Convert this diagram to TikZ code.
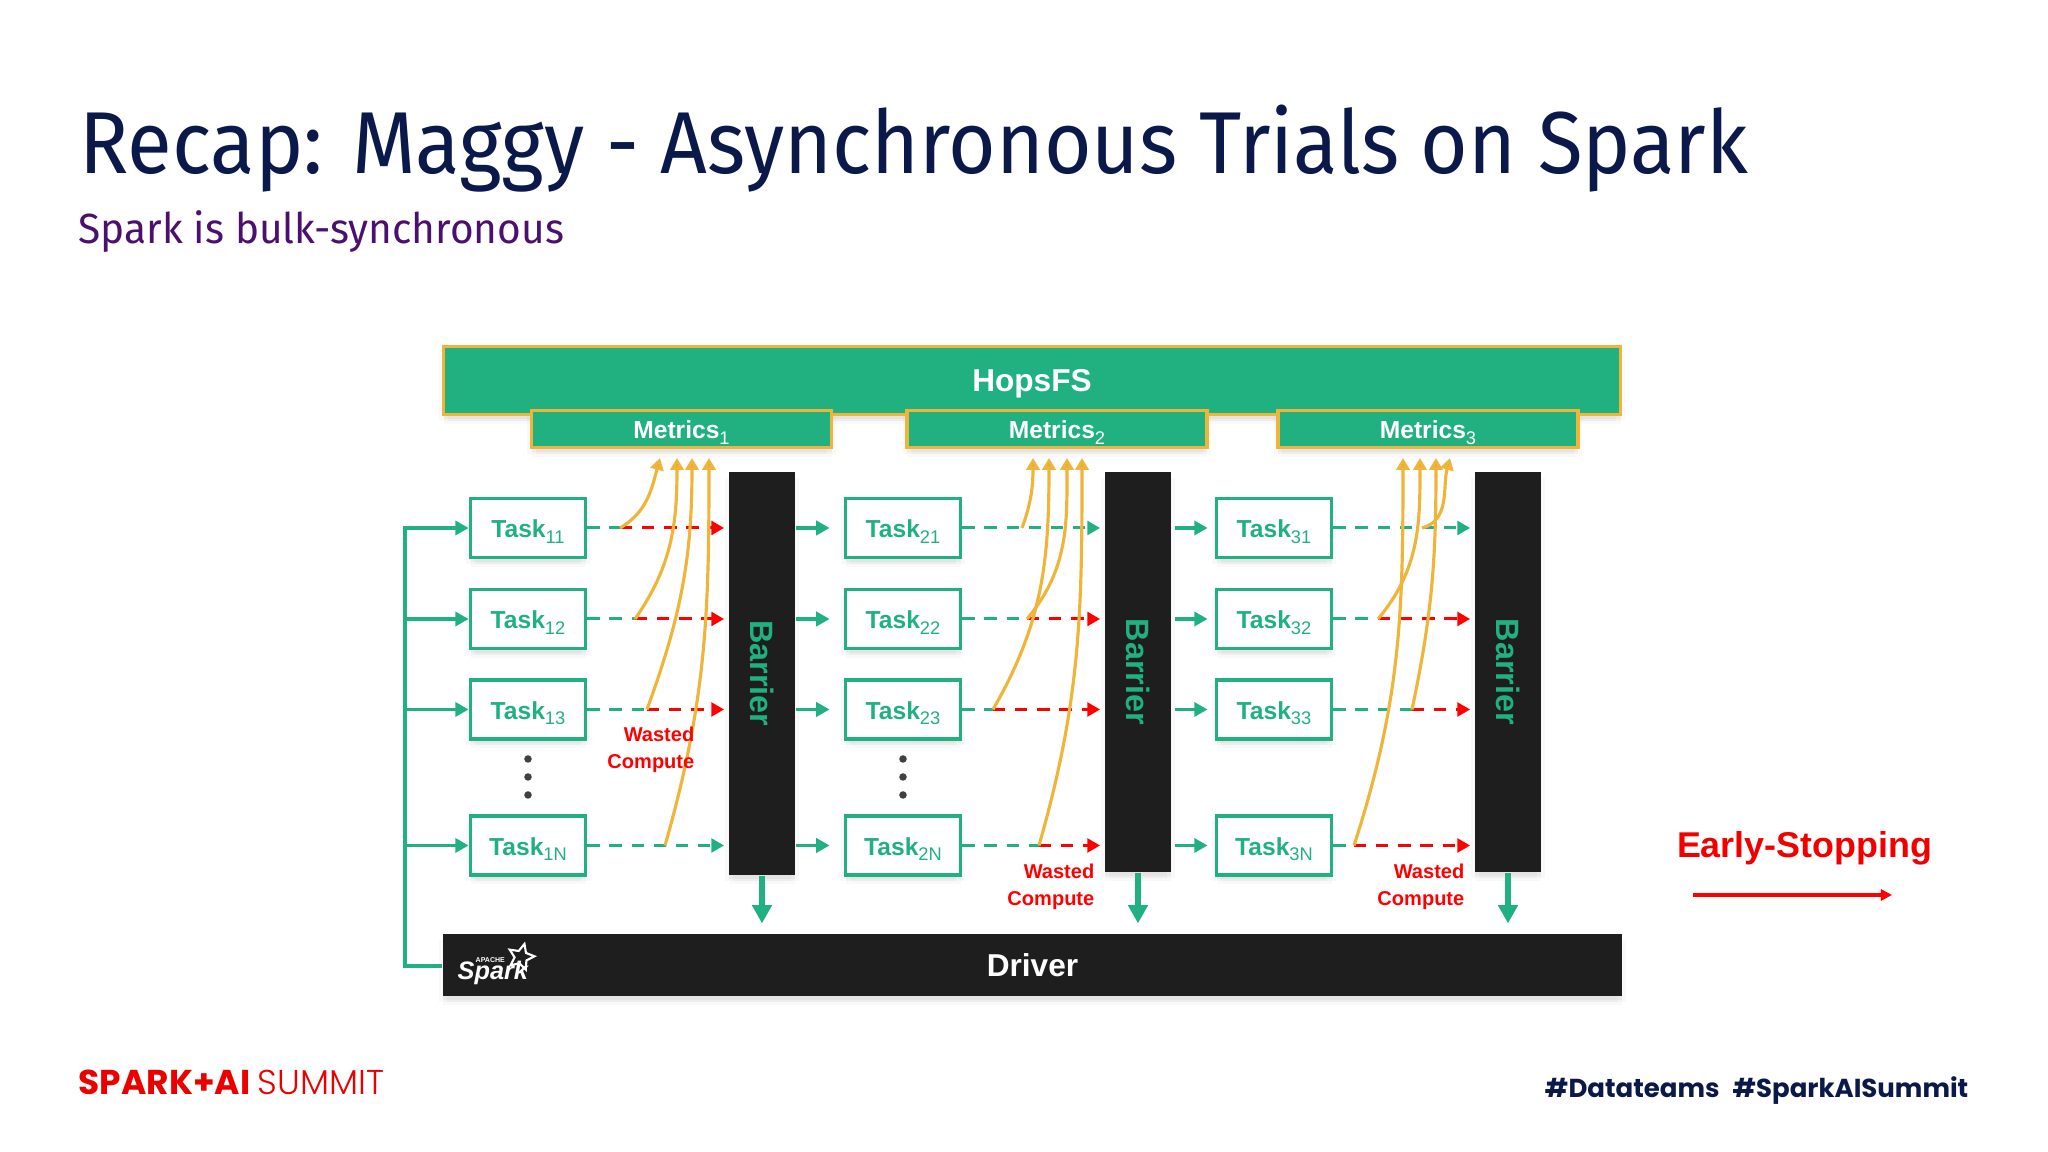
\documentclass[tikz,border=0pt]{standalone}
\usepackage{fontspec}
\setmainfont{Liberation Sans}
\newfontfamily\titlefont[FakeStretch=.93]{Fira Sans}
\newfontfamily\subtitlefont[FakeStretch=.963]{Fira Sans}
\newfontfamily\footfont{Poppins}
\newfontfamily\footlight{Poppins Light}
\usetikzlibrary{arrows.meta,shadows,shapes.geometric}
\definecolor{hopsgreen}{RGB}{33,177,128}
\definecolor{metricorange}{RGB}{239,181,59}
\definecolor{tiporange}{RGB}{232,174,52}
\definecolor{barblack}{RGB}{30,30,30}
\definecolor{titlenavy}{RGB}{10,24,74}
\definecolor{subpurple}{RGB}{75,15,110}
\newcommand{\subidx}[1]{\raisebox{-0.22em}{\mdseries\fontsize{5.2}{5}\selectfont #1}}
\tikzset{
    softshadow/.style={
        drop shadow={shadow xshift=1.2pt,shadow yshift=-1.8pt,opacity=.05},
        drop shadow={shadow xshift=-1.2pt,shadow yshift=-1.8pt,opacity=.05},
        drop shadow={shadow xshift=0pt,shadow yshift=-2.6pt,opacity=.05},
        drop shadow={shadow xshift=0pt,shadow yshift=-1.2pt,opacity=.08}},
    taskbox/.style={draw=hopsgreen,line width=1.05pt,fill=white,text=hopsgreen,minimum width=1.15cm,minimum height=.59cm,inner sep=0pt,text height=5.6pt,text depth=0pt,font=\fontsize{7}{8}\selectfont\bfseries,softshadow},
    metricsbox/.style={draw=metricorange,line width=.9pt,fill=hopsgreen,text=white,minimum width=3cm,minimum height=.37cm,inner sep=0pt,text height=5.6pt,text depth=0pt,font=\fontsize{7}{8}\selectfont\bfseries,softshadow},
    barrierbox/.style={fill=barblack,text=hopsgreen,minimum width=.66cm,minimum height=4cm,inner sep=0pt,font=\fontsize{9.2}{10}\selectfont\bfseries,softshadow},
    wastedlabel/.style={text=red,align=right,anchor=east,inner sep=0pt,font=\fontsize{5.7}{7.7}\selectfont\bfseries},
    greenline/.style={draw=hopsgreen,line width=1pt,-{Triangle[length=3.8pt,width=4pt]}},
    greendash/.style={draw=hopsgreen,line width=.85pt,dash pattern=on 3.5pt off 2.8pt},
    reddash/.style={draw=red,line width=.85pt,dash pattern=on 3.5pt off 2.8pt},
    dashend/.style={-{Triangle[length=3.6pt,width=3.9pt]},shorten >=1.2pt},
    metricline/.style={draw=metricorange,line width=.9pt,-{Triangle[length=3.4pt,width=3.8pt,fill=tiporange]}},
    driverarrow/.style={draw=hopsgreen,line width=1.7pt,-{Triangle[length=5.2pt,width=5.4pt]},shorten >=2.8pt},
}
\begin{document}
\begin{tikzpicture}
    \useasboundingbox (0,0) rectangle (20.48,11.52);
    % heading and footer
    \node[anchor=base west,inner sep=0pt,text=titlenavy,font=\titlefont\fontsize{25}{30}\selectfont] (title) at (0.79,9.78) {Recap: Maggy - Asynchronous Trials on Spark};
    \node[anchor=base west,inner sep=0pt,text=subpurple,font=\subtitlefont\fontsize{12}{14}\selectfont] (subtitle) at (0.78,9.08) {Spark is bulk-synchronous};
    \node[anchor=base west,inner sep=0pt,text=red!92!black,font=\fontsize{9.8}{10}\selectfont] (summit) at (0.78,0.57) {\footfont\bfseries SPARK+AI {\footlight\mdseries SUMMIT}};
    \node[anchor=base east,inner sep=0pt,text=titlenavy,font=\footfont\bfseries\fontsize{7.4}{10}\selectfont] (hashtags) at (19.69,0.54) {\#Datateams\hspace{.5em}\#SparkAISummit};

    % storage
    \node[draw=metricorange,line width=.9pt,fill=hopsgreen,text=white,minimum width=11.77cm,minimum height=.68cm,inner sep=0pt,text height=6.4pt,text depth=0pt,font=\fontsize{9}{10}\selectfont\bfseries,softshadow] (hops) at (10.32,7.715) {HopsFS};
    \node[metricsbox] (m1) at (6.815,7.23) {Metrics\subidx{1}};
    \node[metricsbox] (m2) at (10.57,7.23) {Metrics\subidx{2}};
    \node[metricsbox] (m3) at (14.28,7.23) {Metrics\subidx{3}};

    % driver
    \node[fill=barblack,text=white,minimum width=11.79cm,minimum height=.62cm,inner sep=0pt,font=\fontsize{9}{10}\selectfont\bfseries,softshadow] (driver) at (10.325,1.87) {Driver};
    \node[anchor=base west,inner sep=0pt,text=white,font=\fontsize{7.2}{10}\selectfont\bfseries\itshape] (sparkword) at (4.57,1.72) {Spark};
    \node[anchor=base west,inner sep=0pt,text=white,font=\fontsize{2}{3}\selectfont\bfseries] (apache) at (4.75,1.89) {APACHE};
    \node[star,star points=5,star point ratio=2.1,draw=white,line width=.6pt,minimum size=.27cm,inner sep=0pt,rotate=-15] (sparkstar) at (5.21,1.95) {};

    % barriers
    \node[barrierbox,minimum height=4.03cm] (b1) at (7.62,4.785) {\rotatebox{-90}{Barrier}};
    \node[barrierbox] (b2) at (11.38,4.80) {\rotatebox{-90}{Barrier}};
    \node[barrierbox] (b3) at (15.08,4.80) {\rotatebox{-90}{Barrier}};

    % tasks
    \node[taskbox] (t11) at (5.28,6.24) {Task\subidx{11}};
    \node[taskbox] (t12) at (5.28,5.33) {Task\subidx{12}};
    \node[taskbox] (t13) at (5.28,4.425) {Task\subidx{13}};
    \node[taskbox] (t1n) at (5.28,3.065) {Task\subidx{1N}};
    \node[taskbox] (t21) at (9.03,6.24) {Task\subidx{21}};
    \node[taskbox] (t22) at (9.03,5.33) {Task\subidx{22}};
    \node[taskbox] (t23) at (9.03,4.425) {Task\subidx{23}};
    \node[taskbox] (t2n) at (9.03,3.065) {Task\subidx{2N}};
    \node[taskbox] (t31) at (12.74,6.24) {Task\subidx{31}};
    \node[taskbox] (t32) at (12.74,5.33) {Task\subidx{32}};
    \node[taskbox] (t33) at (12.74,4.425) {Task\subidx{33}};
    \node[taskbox] (t3n) at (12.74,3.065) {Task\subidx{3N}};
    \filldraw[barblack!85] (5.28,3.93) circle (.03);
    \filldraw[barblack!85] (5.28,3.75) circle (.03);
    \filldraw[barblack!85] (5.28,3.57) circle (.03);
    \filldraw[barblack!85] (9.03,3.93) circle (.03);
    \filldraw[barblack!85] (9.03,3.75) circle (.03);
    \filldraw[barblack!85] (9.03,3.57) circle (.03);

    % driver to first tasks
    \coordinate (trunk) at (4.05,1.86);
    \draw[greenline] (driver.west |- trunk) -- (trunk) |- (t11.west);
    \draw[greenline] (trunk |- t12.west) -- (t12.west);
    \draw[greenline] (trunk |- t13.west) -- (t13.west);
    \draw[greenline] (trunk |- t1n.west) -- (t1n.west);

    % barrier to next tasks
    \draw[greenline,shorten >=4pt] (b1.east |- t21.west) -- (t21.west);
    \draw[greenline,shorten >=4pt] (b1.east |- t22.west) -- (t22.west);
    \draw[greenline,shorten >=4pt] (b1.east |- t23.west) -- (t23.west);
    \draw[greenline,shorten >=4pt] (b1.east |- t2n.west) -- (t2n.west);
    \draw[greenline,shorten >=2pt,shorten <=1pt] (b2.east |- t31.west) -- (t31.west);
    \draw[greenline,shorten >=2pt,shorten <=1pt] (b2.east |- t32.west) -- (t32.west);
    \draw[greenline,shorten >=2pt,shorten <=1pt] (b2.east |- t33.west) -- (t33.west);
    \draw[greenline,shorten >=2pt,shorten <=1pt] (b2.east |- t3n.west) -- (t3n.west);

    % where each task reports its metrics
    \coordinate (k11) at (6.20,6.24);
    \coordinate (k12) at (6.35,5.33);
    \coordinate (k13) at (6.47,4.425);
    \coordinate (k1n) at (6.65,3.065);
    \coordinate (k21) at (10.22,6.24);
    \coordinate (k22) at (10.27,5.33);
    \coordinate (k23) at (9.93,4.425);
    \coordinate (k2n) at (10.39,3.065);
    \coordinate (k31) at (14.22,6.24);
    \coordinate (k32) at (13.78,5.33);
    \coordinate (k33) at (14.12,4.425);
    \coordinate (k3n) at (13.54,3.065);

    % green until the metrics, red when it is wasted
    \draw[greendash] (t11.east) -- (k11);
    \draw[reddash,dashend] (k11) -- (b1.west |- k11);
    \draw[greendash] (t12.east) -- (k12);
    \draw[reddash,dashend] (k12) -- (b1.west |- k12);
    \draw[greendash] (t13.east) -- (k13);
    \draw[reddash,dashend] (k13) -- (b1.west |- k13);
    \draw[greendash,dashend] (t1n.east) -- (b1.west |- k1n);
    \draw[greendash,dashend] (t21.east) -- (b2.west |- k21);
    \draw[greendash] (t22.east) -- (k22);
    \draw[reddash,dashend] (k22) -- (b2.west |- k22);
    \draw[greendash] (t23.east) -- (k23);
    \draw[reddash,dashend] (k23) -- (b2.west |- k23);
    \draw[greendash] (t2n.east) -- (k2n);
    \draw[reddash,dashend] (k2n) -- (b2.west |- k2n);
    \draw[greendash,dashend] (t31.east) -- (b3.west |- k31);
    \draw[greendash] (t32.east) -- (k32);
    \draw[reddash,dashend] (k32) -- (b3.west |- k32);
    \draw[greendash] (t33.east) -- (k33);
    \draw[reddash,dashend] (k33) -- (b3.west |- k33);
    \draw[greendash] (t3n.east) -- (k3n);
    \draw[reddash,dashend] (k3n) -- (b3.west |- k3n);

    % metrics curves
    \draw[metricline] (k11) to[out=30,in=-105] (6.60,6.94);
    \draw[metricline] (k12) to[out=55,in=-90] (6.77,6.94);
    \draw[metricline] (k13) to[out=70,in=-90] (6.92,6.94);
    \draw[metricline] (k1n) to[out=74,in=-90] (7.09,6.94);
    \draw[metricline] (k21) to[out=70,in=-90] (10.33,6.94);
    \draw[metricline] (k22) to[out=50,in=-90] (10.67,6.94);
    \draw[metricline] (k23) to[out=60,in=-90] (10.49,6.94);
    \draw[metricline] (k2n) to[out=74,in=-90] (10.82,6.94);
    \draw[metricline] (k31) to[out=15,in=-105] (14.50,6.94);
    \draw[metricline] (k32) to[out=50,in=-90] (14.20,6.94);
    \draw[metricline] (k33) to[out=78,in=-90] (14.36,6.94);
    \draw[metricline] (k3n) to[out=72,in=-90] (14.03,6.94);

    % barrier to driver
    \draw[driverarrow] (b1.south) -- (b1.south |- driver.north);
    \draw[driverarrow] (b2.south) -- (b2.south |- driver.north);
    \draw[driverarrow] (b3.south) -- (b3.south |- driver.north);

    \node[wastedlabel] (w1) at (6.95,4.025) {Wasted\\Compute};
    \node[wastedlabel] (w2) at (10.95,2.655) {Wasted\\Compute};
    \node[wastedlabel] (w3) at (14.65,2.655) {Wasted\\Compute};

    % early stopping
    \node[inner sep=0pt,text=red!95!black,font=\fontsize{10.2}{12}\selectfont\bfseries] (early) at (18.045,3.04) {Early-Stopping};
    \coordinate (earlystart) at (16.93,2.57);
    \coordinate (earlyend) at (18.92,2.57);
    \draw[draw=red,line width=.9pt,-{Triangle[length=3.2pt,width=3.2pt]}] (earlystart) -- (earlyend);
\end{tikzpicture}
\end{document}
